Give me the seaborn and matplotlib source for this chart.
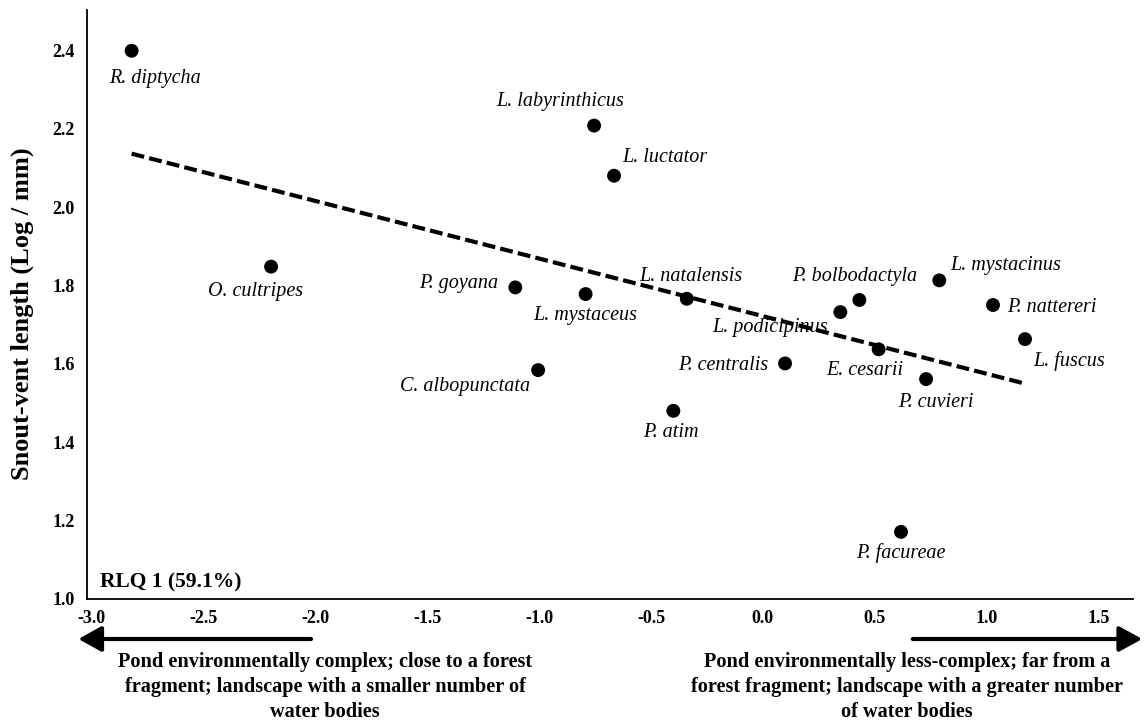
import matplotlib
matplotlib.use("Agg")
import matplotlib.pyplot as plt
import seaborn as sns
import pandas as pd
from matplotlib.patches import FancyArrowPatch

# ---- data ----
species = ["R. diptycha", "L. labyrinthicus", "L. luctator", "O. cultripes",
           "P. goyana", "L. mystaceus", "L. natalensis", "C. albopunctata",
           "P. atim", "P. centralis", "L. podicipinus", "P. bolbodactyla",
           "L. mystacinus", "E. cesarii", "P. cuvieri", "P. nattereri",
           "L. fuscus", "P. facureae"]
rlq1 = [-2.820, -0.754, -0.665, -2.197, -1.106, -0.792, -0.340, -1.004,
        -0.400, 0.099, 0.346, 0.431, 0.788, 0.517, 0.729, 1.028, 1.171, 0.617]
svl = [2.399, 2.208, 2.080, 1.848, 1.795, 1.778, 1.766, 1.584,
       1.480, 1.601, 1.732, 1.763, 1.813, 1.637, 1.561, 1.750, 1.663, 1.171]
x_ticks = [-3.0, -2.5, -2.0, -1.5, -1.0, -0.5, 0.0, 0.5, 1.0, 1.5]
y_ticks = [1.0, 1.2, 1.4, 1.6, 1.8, 2.0, 2.2, 2.4]
y_title = "Snout-vent length (Log / mm)"
axis_note = "RLQ 1 (59.1%)"
left_text = "Pond environmentally complex; close to a forest\nfragment; landscape with a smaller number of\nwater bodies"
right_text = "Pond environmentally less-complex; far from a\nforest fragment; landscape with a greater number\nof water bodies"

df = pd.DataFrame({"species": species, "rlq1": rlq1, "svl": svl})

# label placement (pixel offsets from each dot, alignment)
label_pos = {
    "R. diptycha": (23, -28, "center"),
    "L. labyrinthicus": (-34, 24, "center"),
    "L. luctator": (8, 18, "left"),
    "O. cultripes": (-16, -25, "center"),
    "P. goyana": (-17, 4, "right"),
    "L. mystaceus": (0, -21, "center"),
    "L. natalensis": (4, 22, "center"),
    "C. albopunctata": (-8, -16, "right"),
    "P. atim": (-2, -22, "center"),
    "P. centralis": (-17, -2, "right"),
    "L. podicipinus": (-70, -15, "center"),
    "P. bolbodactyla": (-5, 23, "center"),
    "L. mystacinus": (11, 15, "left"),
    "E. cesarii": (-14, -21, "center"),
    "P. cuvieri": (10, -23, "center"),
    "P. nattereri": (14, -2, "left"),
    "L. fuscus": (44, -22, "center"),
    "P. facureae": (0, -21, "center"),
}

sns.set_theme(style="white")
plt.rcParams["font.family"] = ["Liberation Serif", "DejaVu Serif"]
plt.rcParams["text.color"] = "black"
plt.rcParams["axes.labelcolor"] = "black"
plt.rcParams["xtick.color"] = "black"
plt.rcParams["ytick.color"] = "black"

W, H = 1146, 725
fig = plt.figure(figsize=(W / 100, H / 100), dpi=100)
ax_l, ax_r, ax_b, ax_t = 87.3, 1132.7, 598.9, 10
ax = fig.add_axes([ax_l / W, 1 - ax_b / H, (ax_r - ax_l) / W, (ax_b - ax_t) / H])

sns.regplot(data=df, x="rlq1", y="svl", ax=ax, ci=None, color="black",
            scatter_kws=dict(s=100, color="black", edgecolor="none", alpha=1),
            line_kws=dict(color="black", lw=3.0, linestyle=(0, (3.1, 1.25))))

ax.set_xlim(-3.018, 1.652)
ax.set_ylim(1.0, 2.503)
ax.set_xticks(x_ticks)
ax.set_xticklabels([f"{v:.1f}" for v in x_ticks])
ax.set_yticks(y_ticks)
ax.set_yticklabels([f"{v:.1f}" for v in y_ticks])
ax.tick_params(axis="both", length=0, labelsize=13)
ax.tick_params(axis="x", pad=8)
ax.tick_params(axis="y", pad=9)
for lab in ax.get_xticklabels() + ax.get_yticklabels():
    lab.set_fontweight("bold")
ax.set_xlabel("")
ax.set_ylabel(y_title, fontsize=19, fontweight="bold")
ax.yaxis.set_label_coords(-0.051, 0.4846)

for s in ["top", "right"]:
    ax.spines[s].set_visible(False)
for s in ["left", "bottom"]:
    ax.spines[s].set_color("black")
    ax.spines[s].set_linewidth(1.3)

for sp, xv, yv in zip(species, rlq1, svl):
    dx, dy, ha = label_pos[sp]
    ax.annotate(sp, (xv, yv), xytext=(dx, dy), textcoords="offset pixels",
                ha=ha, va="center", fontsize=14.5, fontstyle="italic")

ax.text(0.0121, 0.0287, axis_note, transform=ax.transAxes, ha="left",
        va="center", fontsize=15.5, fontweight="bold")

# direction arrows
arr_y = 1 - 639 / H
style = "-|>,head_length=1.0,head_width=0.55"
fig.add_artist(FancyArrowPatch((313.8 / W, arr_y), (75.5 / W, arr_y),
                               transform=fig.transFigure, arrowstyle=style,
                               mutation_scale=14, lw=3, color="black"))
fig.add_artist(FancyArrowPatch((910 / W, arr_y), (1145 / W, arr_y),
                               transform=fig.transFigure, arrowstyle=style,
                               mutation_scale=14, lw=3, color="black"))

fig.text(325 / W, 1 - 652 / H, left_text, ha="center", va="top", fontsize=14.6,
         fontweight="bold", linespacing=1.33, multialignment="center")
fig.text(907 / W, 1 - 652 / H, right_text, ha="center", va="top", fontsize=14.6,
         fontweight="bold", linespacing=1.33, multialignment="center")

fig.savefig("out.png", dpi=100)
